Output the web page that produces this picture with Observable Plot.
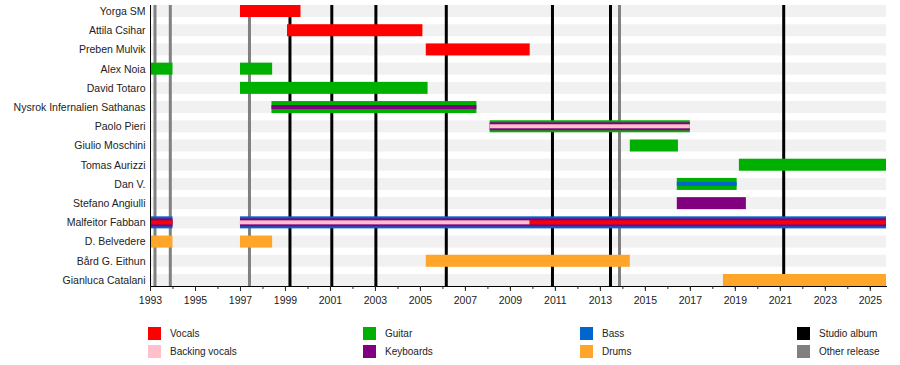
<!DOCTYPE html>
<html>
<head>
<meta charset="utf-8">
<script src="https://cdn.jsdelivr.net/npm/d3@7"></script>
<script src="https://cdn.jsdelivr.net/npm/@observablehq/plot@0.6"></script>
<style>
  html, body { margin: 0; padding: 0; background: #fff; }
  #chart { position: relative; width: 900px; }
  #legend { position: relative; width: 900px; height: 50px; font-family: "Liberation Sans", Arial, sans-serif; font-size: 10px; color: #222; }
  .lg-item { position: absolute; display: flex; align-items: center; height: 13px; }
  .lg-sw { width: 13px; height: 13px; margin-right: 9px; }
</style>
</head>
<body>
<div id="chart"></div>
<div id="legend"></div>
<script>
// ---- data ----
const END = 2025.72;
const members = [
  "Yorga SM", "Attila Csihar", "Preben Mulvik", "Alex Noia", "David Totaro",
  "Nysrok Infernalien Sathanas", "Paolo Pieri", "Giulio Moschini", "Tomas Aurizzi",
  "Dan V.", "Stefano Angiulli", "Malfeitor Fabban", "D. Belvedere",
  "Bård G. Eithun", "Gianluca Catalani"
];
const roles = ["Vocals", "Backing vocals", "Guitar", "Keyboards", "Bass", "Drums"];
const roleColors = ["#ff0000", "#ffc0cb", "#00b000", "#800080", "#0066cc", "#ffa52a"];
// [member, role, start, end, layer (0 = main role, 1 = second, 2 = third)]
const periods = [
  ["Yorga SM", "Vocals", 1997.0, 1999.69, 0],
  ["Attila Csihar", "Vocals", 1999.09, 2005.11, 0],
  ["Preben Mulvik", "Vocals", 2005.26, 2009.88, 0],
  ["Alex Noia", "Guitar", 1993.0, 1994.0, 0],
  ["Alex Noia", "Guitar", 1997.0, 1998.43, 0],
  ["David Totaro", "Guitar", 1997.0, 2005.34, 0],
  ["Nysrok Infernalien Sathanas", "Guitar", 1998.4, 2007.51, 0],
  ["Nysrok Infernalien Sathanas", "Keyboards", 1998.4, 2007.51, 1],
  ["Paolo Pieri", "Guitar", 2008.1, 2017.0, 0],
  ["Paolo Pieri", "Keyboards", 2008.1, 2017.0, 1],
  ["Paolo Pieri", "Backing vocals", 2008.1, 2017.0, 2],
  ["Giulio Moschini", "Guitar", 2014.33, 2016.47, 0],
  ["Tomas Aurizzi", "Guitar", 2019.18, END, 0],
  ["Dan V.", "Guitar", 2016.42, 2019.08, 0],
  ["Dan V.", "Bass", 2016.42, 2019.08, 1],
  ["Stefano Angiulli", "Keyboards", 2016.42, 2019.49, 0],
  ["Malfeitor Fabban", "Bass", 1993.0, 1994.0, 0],
  ["Malfeitor Fabban", "Keyboards", 1993.0, 1994.0, 1],
  ["Malfeitor Fabban", "Vocals", 1993.0, 1994.0, 2],
  ["Malfeitor Fabban", "Bass", 1997.0, END, 0],
  ["Malfeitor Fabban", "Keyboards", 1997.0, END, 1],
  ["Malfeitor Fabban", "Backing vocals", 1997.0, 2009.88, 2],
  ["Malfeitor Fabban", "Vocals", 2009.88, END, 2],
  ["D. Belvedere", "Drums", 1993.0, 1994.0, 0],
  ["D. Belvedere", "Drums", 1997.0, 1998.43, 0],
  ["Bård G. Eithun", "Drums", 2005.26, 2014.33, 0],
  ["Gianluca Catalani", "Drums", 2018.47, END, 0]
];
const studioAlbums = [1999.2, 2001.06, 2003.02, 2006.15, 2010.87, 2013.45, 2021.15];
const otherReleases = [1993.2, 1993.88, 1997.4, 2013.85];
const tickYears = [1993, 1995, 1997, 1999, 2001, 2003, 2005, 2007, 2009, 2011, 2013, 2015, 2017, 2019, 2021, 2023, 2025];
const legendItems = [
  ["Vocals", "#ff0000"], ["Backing vocals", "#ffc0cb"],
  ["Guitar", "#00b000"], ["Keyboards", "#800080"],
  ["Bass", "#0066cc"], ["Drums", "#ffa52a"],
  ["Studio album", "#000000"], ["Other release", "#808080"]
];

// ---- build ----
const rows = periods.map(([member, role, start, end, layer]) => ({member, role, start, end, layer}));
const hasThird = new Set(rows.filter(d => d.layer === 2).map(d => d.member));
const minorYears = d3.range(1993, 2026);
const colorOf = r => roleColors[roles.indexOf(r)];

const H = 315;
const chart = Plot.plot({
  width: 900,
  height: H,
  marginLeft: 150,
  marginRight: 14,
  marginTop: 5,
  marginBottom: H - 286,
  style: {fontFamily: "'Liberation Sans', Arial, sans-serif", fontSize: "10.5px", color: "#222", background: "#fff"},
  x: {domain: [1993, END]},
  y: {domain: members, paddingInner: 0.375, paddingOuter: 0, round: false},
  marks: [
    Plot.barX(members, {y: d => d, x1: 1993, x2: END, fill: "#f1f1f1"}),
    Plot.ruleX(otherReleases, {x: d => d, stroke: "#808080", strokeWidth: 3}),
    Plot.ruleX(studioAlbums, {x: d => d, stroke: "#000", strokeWidth: 3}),
    Plot.barX(rows.filter(d => d.layer === 0), {y: "member", x1: "start", x2: "end", fill: d => colorOf(d.role)}),
    Plot.barX(rows.filter(d => d.layer === 1 && hasThird.has(d.member)), {y: "member", x1: "start", x2: "end", fill: d => colorOf(d.role), insetTop: 2, insetBottom: 2}),
    Plot.barX(rows.filter(d => d.layer === 1 && !hasThird.has(d.member)), {y: "member", x1: "start", x2: "end", fill: d => colorOf(d.role), insetTop: 4, insetBottom: 4}),
    Plot.barX(rows.filter(d => d.layer === 2), {y: "member", x1: "start", x2: "end", fill: d => colorOf(d.role), insetTop: 4, insetBottom: 4}),
    Plot.ruleX([1993], {stroke: "#000", strokeWidth: 1}),
    Plot.frame({anchor: "bottom", stroke: "#000"}),
    Plot.axisY({tickSize: 0, tickPadding: 5, label: null, fill: "#222"}),
    Plot.axisX(minorYears, {tickSize: 3, tickFormat: () => "", label: null}),
    Plot.axisX(tickYears, {tickSize: 5, tickPadding: 5, tickFormat: d => String(d), label: null, fill: "#222"})
  ]
});
document.getElementById("chart").appendChild(chart);

const lg = document.getElementById("legend");
const colX = [148, 363, 580, 797];
const rowY = [12, 30];
legendItems.forEach(([label, color], i) => {
  const el = document.createElement("div");
  el.className = "lg-item";
  el.style.left = colX[Math.floor(i / 2)] + "px";
  el.style.top = rowY[i % 2] + "px";
  const sw = document.createElement("div");
  sw.className = "lg-sw";
  sw.style.background = color;
  const tx = document.createElement("span");
  tx.textContent = label;
  el.appendChild(sw);
  el.appendChild(tx);
  lg.appendChild(el);
});
</script>
</body>
</html>
